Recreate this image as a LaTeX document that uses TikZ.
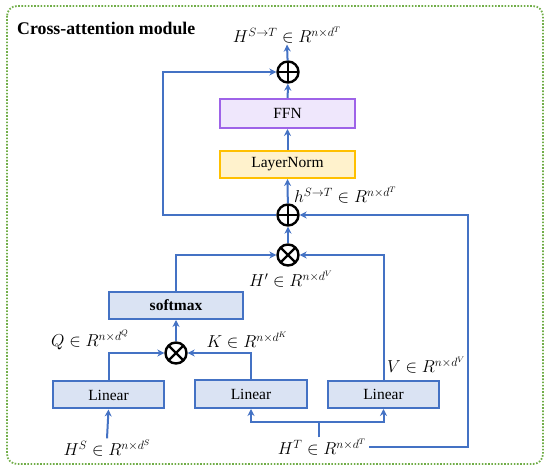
\documentclass[tikz,border=0pt]{standalone}
\usepackage{fontspec}
\setmainfont{Liberation Serif}
\usetikzlibrary{arrows.meta,calc}
\definecolor{lblue}{HTML}{4472C4}
\definecolor{bfill}{HTML}{DAE3F3}
\definecolor{pborder}{HTML}{9E63E8}
\definecolor{pfill}{HTML}{EFE7FC}
\definecolor{yborder}{HTML}{FFC000}
\definecolor{yfill}{HTML}{FFF2CC}
\definecolor{dgreen}{HTML}{70AD47}
\tikzset{
  box/.style={draw=lblue, fill=bfill, line width=2pt, inner sep=0pt, font=\fontsize{15.5}{18}\selectfont},
  arr/.style={draw=lblue, line width=2pt, -{Stealth[length=7pt,width=7pt]}},
  ln/.style={draw=lblue, line width=2pt},
  lbl/.style={inner sep=1pt, font=\fontsize{17}{20}\selectfont},
  opl/.style={circle, draw=black, line width=2.4pt, minimum size=21pt, inner sep=0pt,
    path picture={\draw[line width=2.2pt] (path picture bounding box.north) -- (path picture bounding box.south)
      (path picture bounding box.west) -- (path picture bounding box.east);}},
  otm/.style={circle, draw=black, line width=2.4pt, minimum size=21pt, inner sep=0pt,
    path picture={\draw[line width=2.2pt] (path picture bounding box.north west) -- (path picture bounding box.south east)
      (path picture bounding box.south west) -- (path picture bounding box.north east);}}
}
\begin{document}
\begin{tikzpicture}[x=1pt,y=-1pt]
\useasboundingbox (0,0) rectangle (550,473);
\draw[dgreen, line width=1.8pt, dash pattern=on 1.6pt off 1.6pt, rounded corners=10pt] (7,6) rectangle (543,464);
\node[anchor=west, inner sep=0pt, font=\bfseries\fontsize{17.8}{20}\selectfont] (title) at (17,28) {Cross-attention module};

\node[lbl] (outH) at (287,35) {$H^{S\to T}\in R^{n\times d^T}$};
\node[opl] (topadd) at (288,72) {};
\node[box, draw=pborder, fill=pfill, minimum width=135pt, minimum height=29pt] (ffn) at (287.5,113.5) {FFN};
\node[box, draw=yborder, fill=yfill, minimum width=135pt, minimum height=27pt] (lnorm) at (287.5,164.5) {LayerNorm};
\node[opl] (midadd) at (288,215) {};
\node[lbl, anchor=west] (hlab) at (293,195) {$h^{S\to T}\in R^{n\times d^T}$};
\node[otm] (mul1) at (288,255) {};
\node[lbl] (Hp) at (291,279) {$H'\in R^{n\times d^V}$};
\node[box, minimum width=134pt, minimum height=27pt, font=\bfseries\fontsize{15.5}{18}\selectfont] (soft) at (176,305.5) {softmax};
\node[otm] (mul2) at (176,353) {};
\node[lbl] (Qlab) at (90,340) {$Q\in R^{n\times d^Q}$};
\node[lbl] (Klab) at (247,340) {$K\in R^{n\times d^K}$};
\node[box, minimum width=111pt, minimum height=27pt] (linQ) at (108.5,395) {Linear};
\node[box, minimum width=112pt, minimum height=28pt] (linK) at (251,394) {Linear};
\node[box, minimum width=111pt, minimum height=27pt] (linV) at (383.5,394.5) {Linear};
\node[lbl, anchor=west] (Vlab) at (386,365) {$V\in R^{n\times d^V}$};
\node[lbl] (HS) at (107,448) {$H^S\in R^{n\times d^S}$};
\node[lbl] (HT) at (322,447) {$H^T\in R^{n\times d^T}$};

\coordinate (branch) at (319,422);
\coordinate (rloop) at (468,215);
\coordinate (lloop) at (163,215);

\draw[arr] (HS.north) -- (linQ.south);
\draw[ln] ([xshift=-3pt]HT.north) -- (branch);
\draw[arr] (branch) -| (linK.south);
\draw[arr] (branch) -| (linV.south);
\draw[arr] (linQ.north) |- (mul2);
\draw[arr] (linK.north) |- (mul2);
\draw[arr] (mul2) -- (soft.south);
\draw[arr] (soft.north) |- (mul1);
\draw[arr] (linV.north) |- (mul1);
\draw[arr] (mul1) -- (midadd);
\draw[arr] ([xshift=2pt]HT.east) -| (rloop) -- (midadd);
\draw[arr] (midadd) -- (lnorm.south);
\draw[arr] (lnorm) -- (ffn);
\draw[arr] (ffn) -- (topadd);
\draw[arr] (midadd.west) -- (lloop) |- (topadd);
\draw[arr] (topadd) -- (outH.south);
\end{tikzpicture}
\end{document}
